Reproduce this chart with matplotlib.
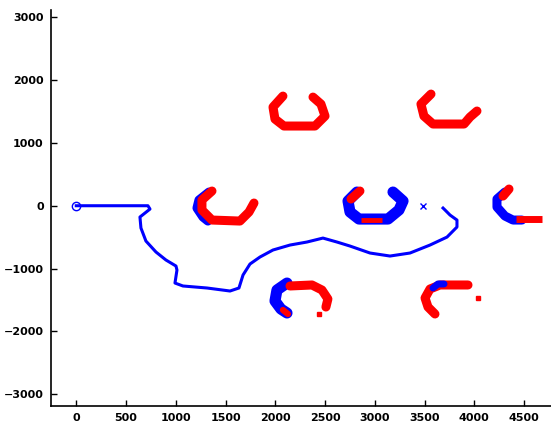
from matplotlib import pyplot as plt

# robot path (start at origin, ends near the goal)
path_x = [0, 720, 741, 640, 650, 700, 801, 901, 1002, 1012, 992, 1072, 1314, 1545,
          1635, 1676, 1746, 1846, 1977, 2148, 2318, 2479, 2620, 2751, 2952, 3153,
          3354, 3555, 3726, 3826, 3826, 3756, 3706, 3686]
path_y = [0, 0, -53, -180, -355, -562, -737, -864, -960, -1024, -1231, -1278, -1310,
          -1358, -1310, -1103, -928, -817, -705, -626, -578, -515, -578, -642, -753,
          -801, -753, -626, -499, -339, -228, -148, -68, -37]
start = (0, 0)
goal = (3480, 0)

# obstacle 1 (top left)
ob1_red_x = [2077, 1977, 1997, 2087, 2399, 2500, 2459, 2379]
ob1_red_y = [1746, 1571, 1380, 1269, 1269, 1428, 1619, 1730]
# obstacle 2 (top right)
ob2_red_x = [3565, 3464, 3494, 3585, 3897, 3957, 4027]
ob2_red_y = [1778, 1619, 1428, 1301, 1301, 1412, 1508]
# obstacle 3 (middle left)
ob3_blue_x = [1334, 1233, 1213, 1273, 1323]
ob3_blue_y = [218, 91, -37, -180, -244]
ob3_red_x = [1364, 1263, 1263, 1364, 1645, 1736, 1786]
ob3_red_y = [234, 91, -68, -228, -244, -100, 43]
# obstacle 4 (middle centre)
ob4_blue_x = [2821, 2731, 2751, 2841, 3133, 3243, 3284, 3183]
ob4_blue_y = [218, 75, -100, -212, -212, -68, 75, 218]
ob4_tip_x = [2851, 2761]
ob4_tip_y = [234, 107]
ob4_bar_x = [2861, 3072]
ob4_bar_y = [-228, -228]
# obstacle 5 (middle right)
ob5_blue_x = [4308, 4228, 4228, 4308, 4389, 4479]
ob5_blue_y = [218, 107, -21, -164, -228, -228]
ob5_tip_x = [4349, 4289]
ob5_tip_y = [266, 154]
ob5_bar_x = [4419, 4681]
ob5_bar_y = [-212, -212]
# obstacle 6 (bottom left)
ob6_blue_x = [2118, 2017, 1997, 2057, 2118]
ob6_blue_y = [-1231, -1342, -1517, -1645, -1708]
ob6_red_x = [2148, 2369, 2469, 2529, 2509]
ob6_red_y = [-1278, -1262, -1342, -1485, -1613]
ob6_low_x = [2077, 2127]
ob6_low_y = [-1660, -1724]
ob6_dot = (2437, -1724)
# obstacle 7 (bottom right)
ob7_red_x = [3937, 3655, 3555, 3505, 3535, 3605]
ob7_red_y = [-1262, -1262, -1326, -1469, -1613, -1724]
ob7_blue_x = [3585, 3635, 3696]
ob7_blue_y = [-1310, -1246, -1246]
ob7_dot = (4037, -1469)

xticks = [0, 500, 1000, 1500, 2000, 2500, 3000, 3500, 4000, 4500]
yticks = [-3000, -2000, -1000, 0, 1000, 2000, 3000]

RED = "#ff0000"
BLUE = "#0000ff"

fig = plt.figure(figsize=(5.51, 4.29), dpi=100)
ax = fig.add_axes([0.092, 0.0536, 0.908, 0.923])

thick = dict(lw=6.5, solid_capstyle="round", solid_joinstyle="round")

ax.plot(ob1_red_x, ob1_red_y, color=RED, **thick)
ax.plot(ob2_red_x, ob2_red_y, color=RED, **thick)

ax.plot(ob3_blue_x, ob3_blue_y, color=BLUE, **thick)
ax.plot(ob3_red_x, ob3_red_y, color=RED, **thick)

ax.plot(ob4_blue_x, ob4_blue_y, color=BLUE, lw=8, solid_capstyle="round",
        solid_joinstyle="round")
ax.plot(ob4_tip_x, ob4_tip_y, color=RED, **thick)
ax.plot(ob4_bar_x, ob4_bar_y, color=RED, lw=3.5, solid_capstyle="butt")

ax.plot(ob5_blue_x, ob5_blue_y, color=BLUE, **thick)
ax.plot(ob5_tip_x, ob5_tip_y, color=RED, **thick)
ax.plot(ob5_bar_x, ob5_bar_y, color=RED, lw=5, solid_capstyle="butt")

ax.plot(ob6_blue_x, ob6_blue_y, color=BLUE, lw=8, solid_capstyle="round",
        solid_joinstyle="round")
ax.plot(ob6_red_x, ob6_red_y, color=RED, **thick)
ax.plot(ob6_low_x, ob6_low_y, color=RED, lw=4.5, solid_capstyle="round")
ax.plot(*ob6_dot, "s", color=RED, ms=3)

ax.plot(ob7_red_x, ob7_red_y, color=RED, **thick)
ax.plot(ob7_blue_x, ob7_blue_y, color=BLUE, lw=5, solid_capstyle="round")
ax.plot(*ob7_dot, "s", color=RED, ms=3)

ax.plot(path_x, path_y, color=BLUE, lw=2.2, solid_joinstyle="round")
ax.plot(*start, "o", mfc="none", mec=BLUE, ms=6, mew=1)
ax.plot(*goal, "x", color=BLUE, ms=4, mew=1)

ax.set_xlim(-257, 4771)
ax.set_ylim(-3189, 3116)
ax.set_xticks(xticks)
ax.set_yticks(yticks)
ax.spines["top"].set_visible(False)
ax.spines["right"].set_visible(False)
ax.spines["left"].set_linewidth(1.2)
ax.spines["bottom"].set_linewidth(1.2)
ax.tick_params(direction="in", length=4, width=1, labelsize=8, pad=5)
for lab in ax.get_xticklabels() + ax.get_yticklabels():
    lab.set_fontweight("bold")

fig.savefig("out.png", dpi=100)
